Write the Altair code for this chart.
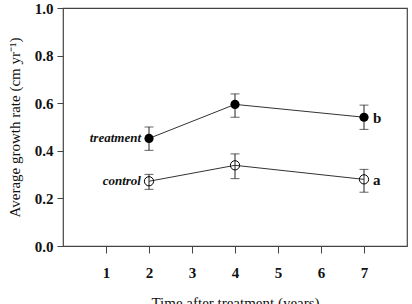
import altair as alt
import pandas as pd

years = [2, 4, 7]
treat_mean = [0.452, 0.595, 0.541]
treat_lo = [0.402, 0.541, 0.490]
treat_hi = [0.500, 0.639, 0.592]
ctrl_mean = [0.272, 0.339, 0.280]
ctrl_lo = [0.238, 0.283, 0.226]
ctrl_hi = [0.301, 0.387, 0.322]

series_names = ["treatment", "control"]
end_letters = ["b", "a"]
x_ticks = [1, 2, 3, 4, 5, 6, 7]
y_ticks = [0.0, 0.2, 0.4, 0.6, 0.8, 1.0]

rows = []
for name, m, lo, hi in [("treatment", treat_mean, treat_lo, treat_hi),
                        ("control", ctrl_mean, ctrl_lo, ctrl_hi)]:
    for x, a, b, c in zip(years, m, lo, hi):
        rows.append({"series": name, "year": x, "mean": a, "lo": b, "hi": c})
df = pd.DataFrame(rows)

start_df = pd.DataFrame({
    "series": series_names,
    "year": [years[0]] * 2,
    "mean": [treat_mean[0], ctrl_mean[0]],
})
end_df = pd.DataFrame({
    "series": series_names,
    "letter": end_letters,
    "year": [years[-1]] * 2,
    "mean": [treat_mean[-1], ctrl_mean[-1]],
})

FONT = "Liberation Serif"

xs = alt.Scale(domain=[0, 8], nice=False, zero=False)
ys = alt.Scale(domain=[0, 1], nice=False)

x_enc = alt.X("year:Q", scale=xs, axis=alt.Axis(
    values=x_ticks, format="d", title="Time after treatment (years)",
    labelFont=FONT, labelFontSize=15, labelFontWeight="bold", labelColor="#111",
    titleFont=FONT, titleFontSize=15, titleFontWeight="normal", titleColor="#111",
    labelPadding=12, titlePadding=15, tickSize=7, tickColor="#444",
    domain=False, grid=False))
y_enc = alt.Y("mean:Q", scale=ys, axis=alt.Axis(
    values=y_ticks, format=".1f", title="Average growth rate (cm yr\u207b\u00b9)",
    labelFont=FONT, labelFontSize=15, labelFontWeight="bold", labelColor="#111",
    titleFont=FONT, titleFontSize=15, titleFontWeight="normal", titleColor="#111",
    labelPadding=4, titlePadding=12, tickSize=6, tickColor="#444",
    domain=False, grid=False))

base = alt.Chart(df)

lines = base.mark_line(color="#333", strokeWidth=1).encode(
    x=x_enc, y=y_enc, detail="series:N")

bars = base.mark_rule(color="#222", strokeWidth=1).encode(
    x="year:Q", y="lo:Q", y2="hi:Q")
caps_lo = base.mark_tick(color="#222", thickness=1, size=9, orient="horizontal").encode(
    x="year:Q", y="lo:Q")
caps_hi = base.mark_tick(color="#222", thickness=1, size=9, orient="horizontal").encode(
    x="year:Q", y="hi:Q")

pts_t = alt.Chart(df[df.series == "treatment"]).mark_point(
    filled=True, color="black", size=85, opacity=1).encode(x="year:Q", y="mean:Q")
pts_c = alt.Chart(df[df.series == "control"]).mark_point(
    filled=False, color="black", size=85, strokeWidth=1, opacity=1).encode(x="year:Q", y="mean:Q")

lbl = alt.Chart(start_df).mark_text(
    align="right", baseline="middle", dx=-8, font=FONT, fontSize=13,
    fontStyle="italic", fontWeight="bold", color="#111").encode(
    x="year:Q", y="mean:Q", text="series:N")
letters = alt.Chart(end_df).mark_text(
    align="left", baseline="middle", dx=9, dy=1, font=FONT, fontSize=15,
    fontWeight="bold", color="#111").encode(
    x="year:Q", y="mean:Q", text="letter:N")

chart = alt.layer(lines, bars, caps_lo, caps_hi, pts_c, pts_t, lbl, letters).properties(
    width=344, height=238,
    autosize=alt.AutoSizeParams(type="none"),
    padding={"left": 63, "top": 8, "right": 5, "bottom": 58},
    background="white",
).configure_view(stroke="#444", strokeWidth=1.2)

chart.save("out.html", embed_options={"renderer": "svg", "actions": False})
